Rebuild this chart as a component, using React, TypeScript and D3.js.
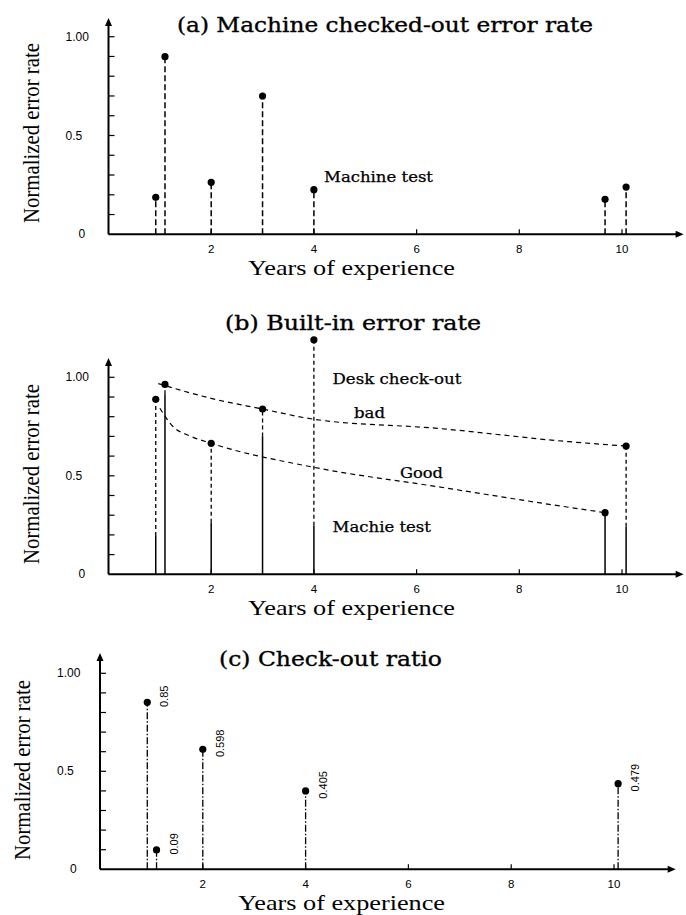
import React, { useEffect, useRef } from 'react';
import * as d3 from 'd3';

// years of experience for each programmer
const years = [0.92, 1.1, 2, 3, 4, 9.67, 10.08];
// (a) machine checked-out error rate
const machineTest = [0.187, 0.899, 0.263, 0.7, 0.226, 0.177, 0.239];
// (b) built-in error rate: desk check-out and machine test part
const deskCheckout = [0.888, 0.964, 0.665, 0.839, 1.19, 0.313, 0.651];
const machineTestB = [0.195, 0.914, 0.262, 0.7, 0.247, 0.313, 0.242];
// trend curves drawn in (b)
const badCurveX = [0.97, 2, 3, 4, 6.4, 8.97, 10.08];
const badCurveY = [0.968, 0.893, 0.839, 0.787, 0.741, 0.673, 0.651];
const goodCurveX = [1.0, 1.26, 1.59, 2, 4, 6.4, 8.97, 9.67];
const goodCurveY = [0.843, 0.749, 0.702, 0.665, 0.543, 0.445, 0.34, 0.313];
// (c) check-out ratio
const ratioYears = [0.92, 1.1, 2, 4, 10.08];
const ratioValues = [0.852, 0.099, 0.612, 0.4, 0.437];
const ratioLabels = ['0.85', '0.09', '0.598', '0.405', '0.479'];

const xTicks = [2, 4, 6, 8, 10];
const yTickValues = [0, 0.5, 1];
const yTickLabels = ['0', '0.5', '1.00'];
const yMinorTicks = d3.range(1, 11).map((i) => i / 10);

const serif = '"Liberation Serif", "Times New Roman", serif';
const titleFont = '"DejaVu Serif", serif';
const sans = '"Liberation Sans", Arial, sans-serif';

function App() {
    const ref = useRef(null);

    useEffect(() => {
        const svg = d3.select(ref.current);
        svg.selectAll('*').remove();

        // draws axes, ticks, labels and title of one panel, returns scales
        function drawFrame(p) {
            const x = d3.scaleLinear().domain([0, 10]).range([p.x0, p.x10]);
            const y = d3.scaleLinear().domain([0, 1]).range([p.y0, p.y1]);
            const g = svg.append('g');
            const ax = x(0);
            const ay = y(0);
            const xEnd = x(11.2);
            const yTop = p.yTop;

            g.append('line').attr('x1', ax).attr('x2', xEnd - 6).attr('y1', ay).attr('y2', ay)
                .attr('stroke', '#000').attr('stroke-width', 2);
            g.append('line').attr('x1', ax).attr('x2', ax).attr('y1', ay).attr('y2', yTop + 6)
                .attr('stroke', '#000').attr('stroke-width', 2);
            // arrow heads
            g.append('path')
                .attr('d', `M${xEnd},${ay} L${xEnd - 8},${ay - 3.5} L${xEnd - 8},${ay + 3.5} Z`)
                .attr('fill', '#000');
            g.append('path')
                .attr('d', `M${ax},${yTop} L${ax - 3.5},${yTop + 8} L${ax + 3.5},${yTop + 8} Z`)
                .attr('fill', '#000');

            // minor ticks on the y axis (inside)
            g.selectAll('.yt').data(yMinorTicks).enter().append('line')
                .attr('x1', ax).attr('x2', ax + 6)
                .attr('y1', (d) => y(d)).attr('y2', (d) => y(d))
                .attr('stroke', '#000').attr('stroke-width', 1.2);
            // x ticks pointing up
            g.selectAll('.xt').data(xTicks).enter().append('line')
                .attr('x1', (d) => x(d)).attr('x2', (d) => x(d))
                .attr('y1', ay).attr('y2', ay - 5)
                .attr('stroke', '#000').attr('stroke-width', 1.2);

            g.selectAll('.xl').data(xTicks).enter().append('text')
                .attr('x', (d) => x(d)).attr('y', ay + 19)
                .attr('text-anchor', 'middle')
                .style('font-family', sans).style('font-size', '11.5px')
                .text((d) => d);

            g.selectAll('.yl').data(yTickValues).enter().append('text')
                .attr('x', (d, i) => ax - (yTickLabels[i] === '0' ? 30 : 43))
                .attr('y', (d) => y(d) + 4)
                .style('font-family', sans).style('font-size', '12px')
                .text((d, i) => yTickLabels[i]);

            g.append('text')
                .attr('transform', `translate(${p.yLabelX},${p.yLabelY}) rotate(-90)`)
                .attr('text-anchor', 'middle')
                .attr('textLength', 180).attr('lengthAdjust', 'spacingAndGlyphs')
                .style('font-family', serif).style('font-size', '24px')
                .text('Normalized error rate');

            g.append('text')
                .attr('x', p.xLabelX).attr('y', p.xLabelY)
                .attr('textLength', 207).attr('lengthAdjust', 'spacingAndGlyphs')
                .style('font-family', serif).style('font-size', '22px')
                .text('Years of experience');

            g.append('text')
                .attr('x', p.titleX).attr('y', p.titleY)
                .attr('textLength', p.titleW).attr('lengthAdjust', 'spacingAndGlyphs')
                .style('font-family', titleFont).style('font-size', '19.5px')
                .style('stroke', '#000').style('stroke-width', 0.35)
                .text(p.title);

            return { x, y, g };
        }

        function note(g, txt, x, y, w) {
            g.append('text')
                .attr('x', x).attr('y', y)
                .attr('textLength', w).attr('lengthAdjust', 'spacingAndGlyphs')
                .style('font-family', titleFont).style('font-size', '14px')
                .style('stroke', '#000').style('stroke-width', 0.25)
                .text(txt);
        }

        function dots(g, xs, ys, x, y) {
            g.selectAll('.dot').data(xs).enter().append('circle')
                .attr('cx', (d) => x(d)).attr('cy', (d, i) => y(ys[i]))
                .attr('r', 3.6).attr('fill', '#000');
        }

        // (a) Machine checked-out error rate
        {
            const { x, y, g } = drawFrame({
                x0: 108.5, x10: 622, y0: 234.3, y1: 36.7, yTop: 18,
                yLabelX: 39, yLabelY: 133, xLabelX: 248, xLabelY: 275,
                title: '(a) Machine checked-out error rate', titleX: 177, titleY: 32, titleW: 416,
            });
            g.selectAll('.stem').data(years).enter().append('line')
                .attr('x1', (d) => x(d)).attr('x2', (d) => x(d))
                .attr('y1', y(0)).attr('y2', (d, i) => y(machineTest[i]))
                .attr('stroke', '#000').attr('stroke-width', 1.5)
                .attr('stroke-dasharray', '6,3');
            dots(g, years, machineTest, x, y);
            note(g, 'Machine test', 324, 182, 109);
        }

        // (b) Built-in error rate
        {
            const { x, y, g } = drawFrame({
                x0: 108.5, x10: 622, y0: 574.3, y1: 377.3, yTop: 358,
                yLabelX: 39, yLabelY: 474, xLabelX: 248, xLabelY: 615,
                title: '(b) Built-in error rate', titleX: 225, titleY: 330, titleW: 256,
            });
            g.selectAll('.solid').data(years).enter().append('line')
                .attr('x1', (d) => x(d)).attr('x2', (d) => x(d))
                .attr('y1', y(0)).attr('y2', (d, i) => y(machineTestB[i]))
                .attr('stroke', '#000').attr('stroke-width', 1.5);
            g.selectAll('.dash').data(years).enter().append('line')
                .attr('x1', (d) => x(d)).attr('x2', (d) => x(d))
                .attr('y1', (d, i) => y(machineTestB[i])).attr('y2', (d, i) => y(deskCheckout[i]))
                .attr('stroke', '#000').attr('stroke-width', 1.3)
                .attr('stroke-dasharray', '4,3');

            const line = d3.line()
                .x((d) => x(d[0])).y((d) => y(d[1]))
                .curve(d3.curveMonotoneX);
            g.append('path')
                .attr('d', line(badCurveX.map((v, i) => [v, badCurveY[i]])))
                .attr('fill', 'none').attr('stroke', '#000').attr('stroke-width', 1.2)
                .attr('stroke-dasharray', '5,4');
            g.append('path')
                .attr('d', line(goodCurveX.map((v, i) => [v, goodCurveY[i]])))
                .attr('fill', 'none').attr('stroke', '#000').attr('stroke-width', 1.2)
                .attr('stroke-dasharray', '5,4');

            dots(g, years, deskCheckout, x, y);
            note(g, 'Desk check-out', 332.5, 384, 129);
            note(g, 'bad', 354, 418, 31);
            note(g, 'Good', 400, 478, 43);
            note(g, 'Machie test', 332.5, 532, 98.5);
        }

        // (c) Check-out ratio
        {
            const { x, y, g } = drawFrame({
                x0: 100, x10: 614, y0: 869.3, y1: 673.3, yTop: 653,
                yLabelX: 30, yLabelY: 770, xLabelX: 238, xLabelY: 910,
                title: '(c) Check-out ratio', titleX: 219, titleY: 666, titleW: 223,
            });
            g.selectAll('.stem').data(ratioYears).enter().append('line')
                .attr('x1', (d) => x(d)).attr('x2', (d) => x(d))
                .attr('y1', y(0)).attr('y2', (d, i) => y(ratioValues[i]))
                .attr('stroke', '#000').attr('stroke-width', 1.3)
                .attr('stroke-dasharray', '7,2,1.5,2');
            dots(g, ratioYears, ratioValues, x, y);
            g.selectAll('.val').data(ratioYears).enter().append('text')
                .attr('transform', (d, i) => `translate(${x(d) + 21},${y(ratioValues[i]) - 6}) rotate(-90)`)
                .attr('text-anchor', 'middle')
                .style('font-family', sans).style('font-size', '11px')
                .text((d, i) => ratioLabels[i]);
        }
    }, []);

    return (
        <svg
            ref={ref}
            width={686}
            height={915}
            style={{ position: 'absolute', left: 0, top: 0, background: '#fff' }}
        />
    );
}

export default App;
